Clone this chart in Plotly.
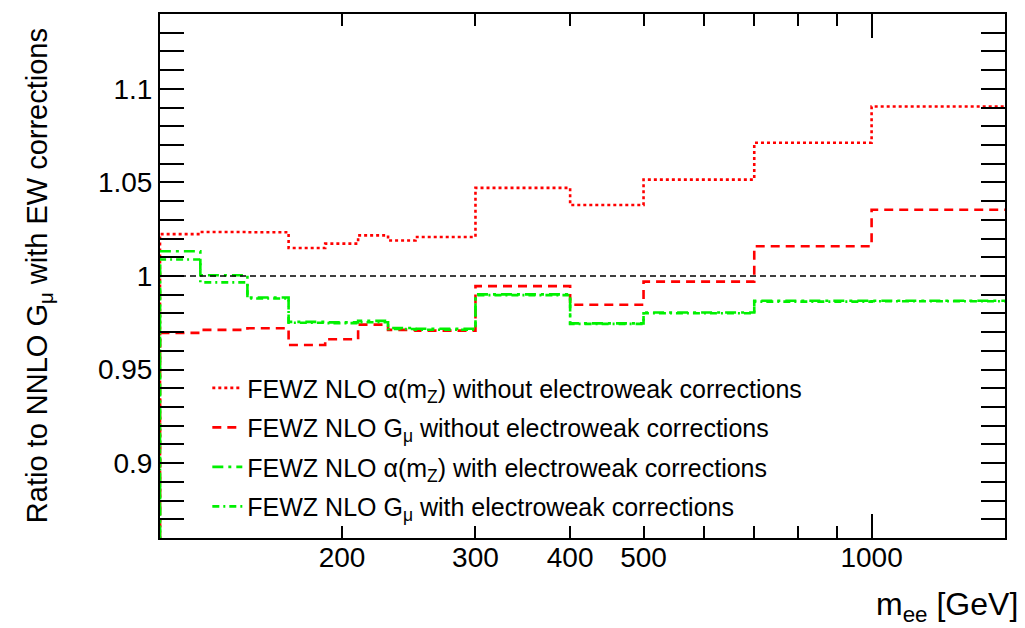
import numpy as np
import plotly.graph_objects as go

# ---- data -------------------------------------------------------------
bin_edges = [115, 130, 150, 170, 190, 210, 230, 250, 300, 400, 500, 700, 1000, 1500]

alpha_noEW = [1.0224, 1.0235, 1.0234, 1.0150, 1.0173, 1.0217, 1.0190, 1.0208,
              1.0471, 1.0379, 1.0515, 1.0712, 1.0906]
gmu_noEW = [0.9696, 0.9712, 0.9721, 0.9631, 0.9662, 0.9740, 0.9712, 0.9708,
            0.9946, 0.9846, 0.9970, 1.0159, 1.0354]
alpha_EW = [1.0132, 1.0004, 0.9885, 0.9755, 0.9752, 0.9760, 0.9722, 0.9718,
            0.9902, 0.9747, 0.9805, 0.9868, 0.9868]
gmu_EW = [1.0088, 0.9966, 0.9880, 0.9750, 0.9748, 0.9753, 0.9717, 0.9713,
          0.9898, 0.9744, 0.9801, 0.9863, 0.9865]

x_ticks = [200, 300, 400, 500, 1000]
x_ticklabels = ["200", "300", "400", "500", "1000"]
x_minor = [600, 700, 800, 900]
y_ticks = [0.9, 0.95, 1.0, 1.05, 1.1]
y_ticklabels = ["0.9", "0.95", "1", "1.05", "1.1"]

series = [
    ("FEWZ NLO α(m<sub>Z</sub>) without electroweak corrections", alpha_noEW, "#ff0000", "dot"),
    ("FEWZ NLO G<sub>μ</sub> without electroweak corrections", gmu_noEW, "#ff0000", "9px,6px"),
    ("FEWZ NLO α(m<sub>Z</sub>) with electroweak corrections", alpha_EW, "#00f000", "11px,5px,3px,5px"),
    ("FEWZ NLO G<sub>μ</sub> with electroweak corrections", gmu_EW, "#00f000", "7px,4px,2px,4px"),
]

FONT = "Liberation Sans, Arial, Helvetica, sans-serif"

fig = go.Figure()
for i, (name, vals, col, dash) in enumerate(series):
    # histogram outline: rise from baseline at first edge, step through bins
    xs = [bin_edges[0]] + list(bin_edges)
    ys = [0.0] + list(vals) + [vals[-1]]
    fig.add_trace(go.Scatter(
        x=xs, y=ys, mode="lines", name=name,
        line=dict(color=col, width=2.6, dash=dash, shape="hv"),
        legendgroup=f"g{i}", hoverinfo="skip",
    ))

fig.add_hline(y=1.0, line=dict(color="black", width=1.3, dash="6px,4px"))

xr = [np.log10(bin_edges[0]), np.log10(bin_edges[-1])]

fig.update_layout(
    width=1025, height=628,
    margin=dict(l=160, r=20, t=12, b=90),
    paper_bgcolor="white", plot_bgcolor="white",
    font=dict(family=FONT, color="black", size=28),
    showlegend=True,
    legend=dict(
        x=0.056, y=0.33, xanchor="left", yanchor="top",
        bgcolor="rgba(0,0,0,0)", borderwidth=0,
        font=dict(size=25, family=FONT),
        tracegroupgap=4, itemwidth=30,
    ),
    xaxis=dict(
        type="log", range=xr,
        tickvals=x_ticks, ticktext=x_ticklabels,
        ticks="inside", ticklen=12, tickwidth=1.5, tickcolor="black",
        minor=dict(tickvals=x_minor, ticks="inside", ticklen=12, tickwidth=1.5, tickcolor="black"),
        showline=True, linewidth=2, linecolor="black", mirror="allticks",
        showgrid=False, zeroline=False,
        tickfont=dict(size=28),
        ticklabelstandoff=-7,
    ),
    xaxis2=dict(
        type="log", range=xr, overlaying="x", anchor="y", side="bottom",
        tickvals=[1000], ticks="inside", ticklen=24, tickwidth=1.5, tickcolor="black",
        showticklabels=False, showline=False,
        showgrid=False, zeroline=False,
    ),
    xaxis3=dict(
        type="log", range=xr, overlaying="x", anchor="y", side="top",
        tickvals=[1000], ticks="inside", ticklen=24, tickwidth=1.5, tickcolor="black",
        showticklabels=False, showline=False,
        showgrid=False, zeroline=False,
    ),
    yaxis=dict(
        range=[0.86, 1.14],
        tickvals=y_ticks, ticktext=y_ticklabels,
        ticks="inside", ticklen=24, tickwidth=1.5, tickcolor="black",
        minor=dict(dtick=0.01, tick0=0.86, ticks="inside", ticklen=12, tickwidth=1.5, tickcolor="black"),
        showline=True, linewidth=2, linecolor="black", mirror="allticks",
        showgrid=False, zeroline=False,
        tickfont=dict(size=28),
    ),
    annotations=[
        dict(text="Ratio to NNLO G<sub>μ</sub> with EW corrections",
             xref="paper", yref="paper", x=-0.143, y=0.5,
             xanchor="center", yanchor="middle", textangle=-90,
             showarrow=False, font=dict(size=29, family=FONT)),
        dict(text="m<sub>ee</sub> [GeV]",
             xref="paper", yref="paper", x=1.018, y=-0.088,
             xanchor="right", yanchor="top",
             showarrow=False, font=dict(size=32, family=FONT)),
    ],
)

# dummy traces so the overlaying tick axes render
fig.add_trace(go.Scatter(x=[bin_edges[0]], y=[0.0], xaxis="x2", mode="lines",
                         showlegend=False, hoverinfo="skip"))
fig.add_trace(go.Scatter(x=[bin_edges[0]], y=[0.0], xaxis="x3", mode="lines",
                         showlegend=False, hoverinfo="skip"))

fig.write_html("out.html")
